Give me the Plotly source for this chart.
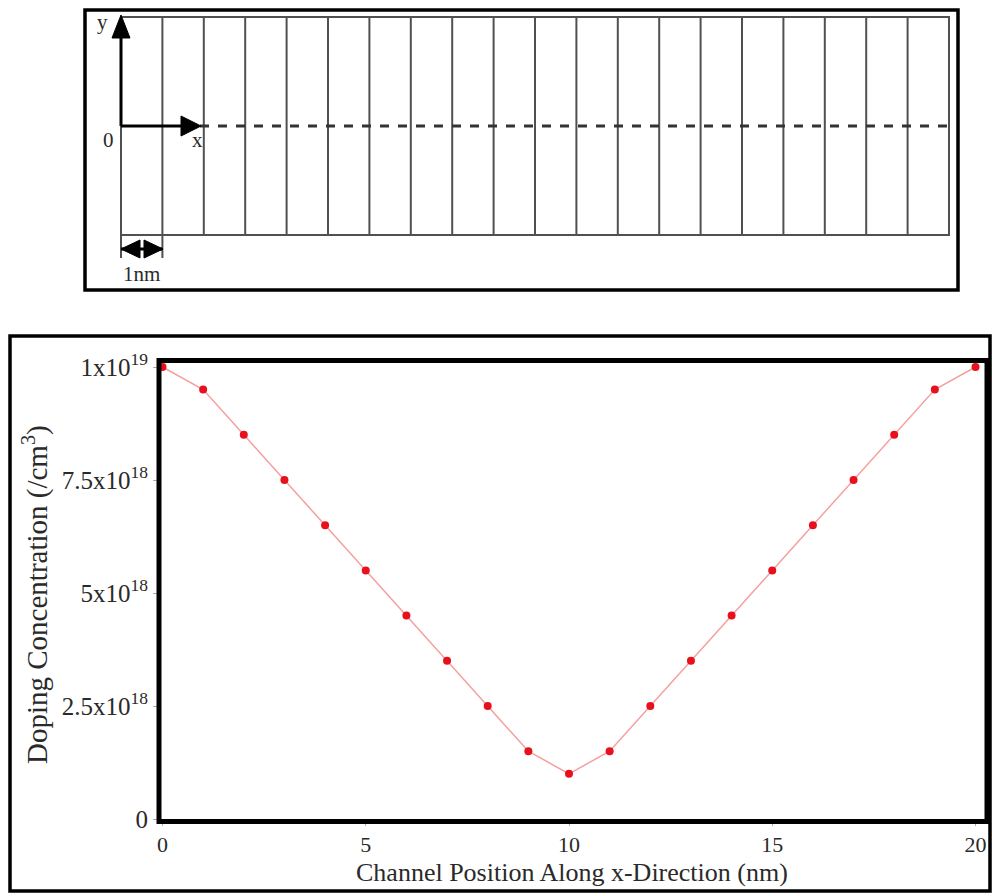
import plotly.graph_objects as go

# ---- data: doping profile along the channel ----
position_nm = [0, 1, 2, 3, 4, 5, 6, 7, 8, 9, 10, 11, 12, 13, 14, 15, 16, 17, 18, 19, 20]
doping_e18 = [10.0, 9.5, 8.5, 7.5, 6.5, 5.5, 4.5, 3.5, 2.5, 1.5, 1.0,
              1.5, 2.5, 3.5, 4.5, 5.5, 6.5, 7.5, 8.5, 9.5, 10.0]
doping = [v * 1e18 for v in doping_e18]

x_ticks = [0, 5, 10, 15, 20]
y_ticks = [0, 2.5e18, 5e18, 7.5e18, 1e19]
y_tick_text = ["0", "2.5x10<sup>18</sup>", "5x10<sup>18</sup>",
               "7.5x10<sup>18</sup>", "1x10<sup>19</sup>"]

x_title = "Channel Position Along x-Direction (nm)"
y_title = "Doping Concentration (/cm<sup>3</sup>)"

# ---- schematic of the channel slices ----
n_cells = 20          # number of 1 nm slices
half_height = 2.63    # half thickness of the channel drawing (nm units)

W, H = 992, 896
SERIF = "Liberation Serif, Times New Roman, serif"
TXT = "#2a2a2a"


def px(x):
    return x / W


def py(y):
    return 1 - y / H


# schematic axis: 1 nm = 41.4 px, x=0 at px 121, y=0 at px 126
S = 41.4
X0, Y0 = 121, 126
sx_range = [-X0 / S, (W - X0) / S]
sy_range = [(Y0 - H) / S, Y0 / S]


def sx(p):
    return (p - X0) / S


def sy(p):
    return (Y0 - p) / S


fig = go.Figure()

fig.add_trace(go.Scatter(
    x=position_nm, y=doping, mode="lines+markers",
    line=dict(color="#f4a0a0", width=1.5),
    marker=dict(color="#e8101c", size=8),
    showlegend=False, hoverinfo="x+y",
))

shapes = []

# outer boxes
shapes.append(dict(type="rect", xref="paper", yref="paper",
                   x0=px(85), x1=px(958), y0=py(10), y1=py(290),
                   line=dict(color="black", width=3.5)))
shapes.append(dict(type="rect", xref="paper", yref="paper",
                   x0=px(10), x1=px(990), y0=py(336), y1=py(891),
                   line=dict(color="black", width=3.5)))

# plot frame
shapes.append(dict(type="rect", xref="paper", yref="paper",
                   x0=px(159), x1=px(987), y0=py(821.5), y1=py(360.5),
                   line=dict(color="black", width=5)))

# channel slices
grey = "#505050"
shapes.append(dict(type="rect", xref="x2", yref="y2", x0=0, x1=n_cells,
                   y0=-half_height, y1=half_height,
                   line=dict(color=grey, width=2)))
for i in range(1, n_cells):
    shapes.append(dict(type="line", xref="x2", yref="y2", x0=i, x1=i,
                       y0=-half_height, y1=half_height,
                       line=dict(color=grey, width=2)))

# centre line (dashed) along the channel
shapes.append(dict(type="line", xref="x2", yref="y2", x0=sx(200), x1=n_cells,
                   y0=0, y1=0, line=dict(color="#333333", width=3, dash="dash")))

# coordinate arrows
shapes.append(dict(type="line", xref="x2", yref="y2", x0=0, x1=0,
                   y0=0, y1=sy(34), line=dict(color="black", width=3)))
shapes.append(dict(type="line", xref="x2", yref="y2", x0=0, x1=sx(184),
                   y0=0, y1=0, line=dict(color="black", width=3)))
shapes.append(dict(type="path", xref="x2", yref="y2",
                   path=f"M {sx(121)} {sy(15)} L {sx(112)} {sy(38)} L {sx(130)} {sy(38)} Z",
                   fillcolor="black", line=dict(color="black", width=1)))
shapes.append(dict(type="path", xref="x2", yref="y2",
                   path=f"M {sx(201)} {sy(126)} L {sx(181)} {sy(116)} L {sx(181)} {sy(136)} Z",
                   fillcolor="black", line=dict(color="black", width=1)))

# 1 nm dimension marker
for xe in (0, 1):
    shapes.append(dict(type="line", xref="x2", yref="y2", x0=xe, x1=xe,
                       y0=-half_height, y1=sy(258),
                       line=dict(color=grey, width=2)))
shapes.append(dict(type="line", xref="x2", yref="y2", x0=0, x1=1,
                   y0=sy(249), y1=sy(249), line=dict(color="black", width=3)))
shapes.append(dict(type="path", xref="x2", yref="y2",
                   path=f"M {sx(121)} {sy(249)} L {sx(140)} {sy(240)} L {sx(140)} {sy(258)} Z",
                   fillcolor="black", line=dict(color="black", width=1)))
shapes.append(dict(type="path", xref="x2", yref="y2",
                   path=f"M {sx(163)} {sy(249)} L {sx(144)} {sy(240)} L {sx(144)} {sy(258)} Z",
                   fillcolor="black", line=dict(color="black", width=1)))

annotations = [
    dict(x=sx(102), y=sy(22), xref="x2", yref="y2", text="y", showarrow=False,
         font=dict(family=SERIF, size=21, color=TXT)),
    dict(x=sx(108), y=sy(140), xref="x2", yref="y2", text="0", showarrow=False,
         font=dict(family=SERIF, size=21, color=TXT)),
    dict(x=sx(197), y=sy(140), xref="x2", yref="y2", text="x", showarrow=False,
         font=dict(family=SERIF, size=21, color=TXT)),
    dict(x=sx(141), y=sy(274), xref="x2", yref="y2", text="1nm", showarrow=False,
         font=dict(family=SERIF, size=21, color=TXT)),
    # axis titles of the doping chart
    dict(x=px(572), y=py(872), xref="paper", yref="paper", text=x_title,
         showarrow=False, xanchor="center", yanchor="middle",
         font=dict(family=SERIF, size=26, color=TXT)),
    dict(x=px(35), y=py(595), xref="paper", yref="paper", text=y_title,
         showarrow=False, xanchor="center", yanchor="middle", textangle=-90,
         font=dict(family=SERIF, size=29, color=TXT)),
]

fig.update_layout(
    width=W, height=H,
    margin=dict(l=0, r=0, t=0, b=0, autoexpand=False),
    paper_bgcolor="white", plot_bgcolor="rgba(0,0,0,0)",
    shapes=shapes, annotations=annotations,
    xaxis=dict(
        domain=[px(159), px(987)], range=[-0.086, 20.283], anchor="y",
        tickvals=x_ticks, ticktext=[str(t) for t in x_ticks],
        showgrid=False, zeroline=False, showline=False, automargin=False,
        ticks="outside", ticklen=3, tickcolor="#aaa",
        tickfont=dict(family=SERIF, size=22, color=TXT),
    ),
    yaxis=dict(
        domain=[py(821.5), py(360.5)], range=[-0.055e18, 1.0144e19], anchor="x",
        tickvals=y_ticks, ticktext=y_tick_text,
        showgrid=False, zeroline=False, showline=False, automargin=False,
        ticks="outside", ticklen=5, tickcolor="#aaa",
        tickfont=dict(family=SERIF, size=25, color=TXT),
    ),
    xaxis2=dict(domain=[0, 1], range=sx_range, anchor="y2", visible=False,
                fixedrange=True),
    yaxis2=dict(domain=[0, 1], range=sy_range, anchor="x2", visible=False,
                fixedrange=True),
)

fig.write_html("out.html")
